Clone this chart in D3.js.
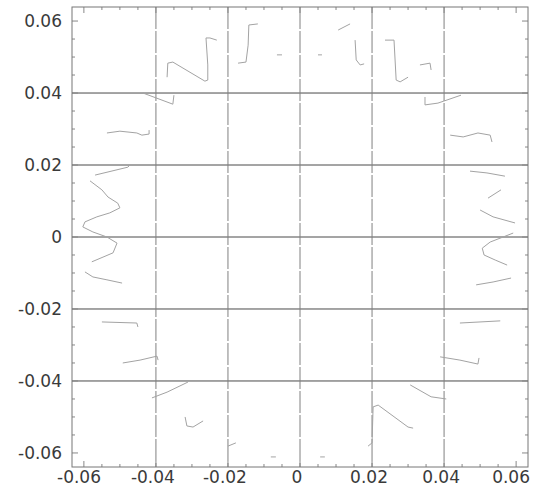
<!DOCTYPE html>
<html>
<head>
<meta charset="utf-8">
<script src="https://cdn.jsdelivr.net/npm/d3@7"></script>
<style>
  html, body { margin: 0; padding: 0; background: #fff; }
  svg { display: block; }
</style>
</head>
<body>
<svg id="chart"></svg>
<script>
// ticks
const tickValues = [-0.06, -0.04, -0.02, 0, 0.02, 0.04, 0.06];
const tickLabels = ['-0.06', '-0.04', '-0.02', '0', '0.02', '0.04', '0.06'];
const gridValues = [-0.04, -0.02, 0, 0.02, 0.04];

// curve fragments, [x, y], grouped by where they sit round the ring
const leftPieces = [
  [[-0.0436, 0.0400], [-0.0353, 0.0369], [-0.0350, 0.0394]],
  [[-0.0536, 0.0289], [-0.0500, 0.0294], [-0.0453, 0.0289], [-0.0439, 0.0283], [-0.0419, 0.0286], [-0.0419, 0.0297]],
  [[-0.0569, 0.0172], [-0.0478, 0.0194], [-0.0472, 0.0200]],
  [[-0.0583, 0.0156], [-0.0550, 0.0131], [-0.0533, 0.0111], [-0.0506, 0.0094], [-0.0500, 0.0081], [-0.0528, 0.0067],
   [-0.0564, 0.0056], [-0.0597, 0.0042], [-0.0603, 0.0028], [-0.0575, 0.0014], [-0.0536, 0.0000], [-0.0508, -0.0017],
   [-0.0519, -0.0044], [-0.0578, -0.0069]],
  [[-0.0597, -0.0097], [-0.0575, -0.0111], [-0.0536, -0.0119], [-0.0494, -0.0128]],
  [[-0.0550, -0.0236], [-0.0453, -0.0239], [-0.0450, -0.0250]],
  [[-0.0492, -0.0350], [-0.0444, -0.0342], [-0.0397, -0.0331], [-0.0394, -0.0342]]
];

const bottomPieces = [
  [[-0.0411, -0.0447], [-0.0369, -0.0431], [-0.0311, -0.0403]],
  [[-0.0319, -0.0500], [-0.0314, -0.0525], [-0.0297, -0.0528], [-0.0269, -0.0511]],
  [[-0.0200, -0.0581], [-0.0178, -0.0572]],
  [[-0.0081, -0.0611], [-0.0067, -0.0611]],
  [[0.0056, -0.0611], [0.0069, -0.0611]],
  [[0.0189, -0.0581], [0.0200, -0.0572], [0.0203, -0.0472], [0.0217, -0.0467], [0.0300, -0.0528], [0.0314, -0.0531]],
  [[0.0306, -0.0411], [0.0364, -0.0444], [0.0406, -0.0450]]
];

const rightPieces = [
  [[0.0389, -0.0333], [0.0444, -0.0342], [0.0494, -0.0353], [0.0497, -0.0336]],
  [[0.0444, -0.0239], [0.0556, -0.0233]],
  [[0.0489, -0.0133], [0.0536, -0.0125], [0.0586, -0.0114]],
  [[0.0592, 0.0011], [0.0528, -0.0014], [0.0506, -0.0031], [0.0511, -0.0050], [0.0542, -0.0064], [0.0575, -0.0078]],
  [[0.0500, 0.0075], [0.0536, 0.0056], [0.0597, 0.0039]],
  [[0.0522, 0.0108], [0.0558, 0.0131]],
  [[0.0472, 0.0183], [0.0519, 0.0178], [0.0569, 0.0169]],
  [[0.0417, 0.0283], [0.0453, 0.0278], [0.0494, 0.0289], [0.0528, 0.0283], [0.0533, 0.0264]],
  [[0.0347, 0.0389], [0.0347, 0.0367], [0.0383, 0.0372], [0.0447, 0.0394]]
];

const topPieces = [
  [[0.0333, 0.0478], [0.0361, 0.0483], [0.0364, 0.0464]],
  [[0.0236, 0.0547], [0.0261, 0.0547], [0.0267, 0.0436], [0.0278, 0.0431], [0.0300, 0.0444]],
  [[0.0153, 0.0547], [0.0156, 0.0492], [0.0167, 0.0478], [0.0178, 0.0481]],
  [[0.0106, 0.0575], [0.0139, 0.0592]],
  [[0.0050, 0.0506], [0.0061, 0.0506]],
  [[-0.0064, 0.0506], [-0.0050, 0.0506]],
  [[-0.0117, 0.0592], [-0.0142, 0.0589], [-0.0144, 0.0533], [-0.0150, 0.0486], [-0.0172, 0.0483]],
  [[-0.0369, 0.0444], [-0.0367, 0.0483], [-0.0353, 0.0486], [-0.0264, 0.0433], [-0.0256, 0.0436],
   [-0.0256, 0.0478], [-0.0261, 0.0553], [-0.0250, 0.0553], [-0.0231, 0.0547]]
];

const width = 538;
const height = 495;
const plotL = 72, plotR = 528, plotT = 7, plotB = 467;

const svg = d3.select('#chart')
  .attr('width', width)
  .attr('height', height)
  .style('font-family', '"DejaVu Sans", sans-serif');

const xScale = d3.scaleLinear().domain([-0.0633, 0.0633]).range([plotL, plotR]);
const yScale = d3.scaleLinear().domain([-0.0639, 0.0639]).range([plotB, plotT]);

// grid
svg.append('g').selectAll('line')
  .data(gridValues)
  .enter().append('line')
  .attr('x1', plotL).attr('x2', plotR)
  .attr('y1', d => yScale(d)).attr('y2', d => yScale(d))
  .attr('stroke', '#4a4a4a').attr('stroke-width', 1);

svg.append('g').selectAll('line')
  .data(gridValues)
  .enter().append('line')
  .attr('x1', d => xScale(d)).attr('x2', d => xScale(d))
  .attr('y1', plotT).attr('y2', plotB)
  .attr('stroke', '#808080').attr('stroke-width', 1)
  .attr('stroke-dasharray', '22,2');

// frame ticks, minor every 0.005
const minor = d3.range(-60, 61, 5).map(v => v / 1000);
const tickG = svg.append('g').attr('stroke', '#888').attr('stroke-width', 1);
minor.forEach(v => {
  const len = tickValues.some(t => Math.abs(t - v) < 1e-9) ? 6 : 3;
  const xv = xScale(v), yv = yScale(v);
  tickG.append('line').attr('x1', xv).attr('x2', xv).attr('y1', plotB).attr('y2', plotB - len);
  tickG.append('line').attr('x1', xv).attr('x2', xv).attr('y1', plotT).attr('y2', plotT + len);
  tickG.append('line').attr('y1', yv).attr('y2', yv).attr('x1', plotL).attr('x2', plotL + len);
  tickG.append('line').attr('y1', yv).attr('y2', yv).attr('x1', plotR).attr('x2', plotR - len);
});

// frame
svg.append('rect')
  .attr('x', plotL).attr('y', plotT)
  .attr('width', plotR - plotL).attr('height', plotB - plotT)
  .attr('fill', 'none').attr('stroke', '#777').attr('stroke-width', 1);

// curve pieces
const line = d3.line()
  .x(d => xScale(d[0]))
  .y(d => yScale(d[1]));

const pieces = [].concat(leftPieces, bottomPieces, rightPieces, topPieces);
svg.append('g').selectAll('path')
  .data(pieces)
  .enter().append('path')
  .attr('d', line)
  .attr('fill', 'none')
  .attr('stroke', '#a3a3a3')
  .attr('stroke-width', 1)
  .attr('stroke-linejoin', 'round');

// y labels
svg.append('g').selectAll('text')
  .data(tickValues)
  .enter().append('text')
  .attr('x', 62)
  .attr('y', d => yScale(d))
  .attr('dy', '0.36em')
  .attr('text-anchor', 'end')
  .attr('font-size', 17)
  .attr('fill', '#3a3a3a')
  .text((d, i) => tickLabels[i]);

// x labels, end labels pulled inside the picture
svg.append('g').selectAll('text')
  .data(tickValues)
  .enter().append('text')
  .attr('x', (d, i) => i === 0 ? 57 : i === tickValues.length - 1 ? 530 : xScale(d) - 3)
  .attr('y', 483)
  .attr('text-anchor', (d, i) => i === 0 ? 'start' : i === tickValues.length - 1 ? 'end' : 'middle')
  .attr('font-size', 17)
  .attr('fill', '#3a3a3a')
  .text((d, i) => tickLabels[i]);
</script>
</body>
</html>
